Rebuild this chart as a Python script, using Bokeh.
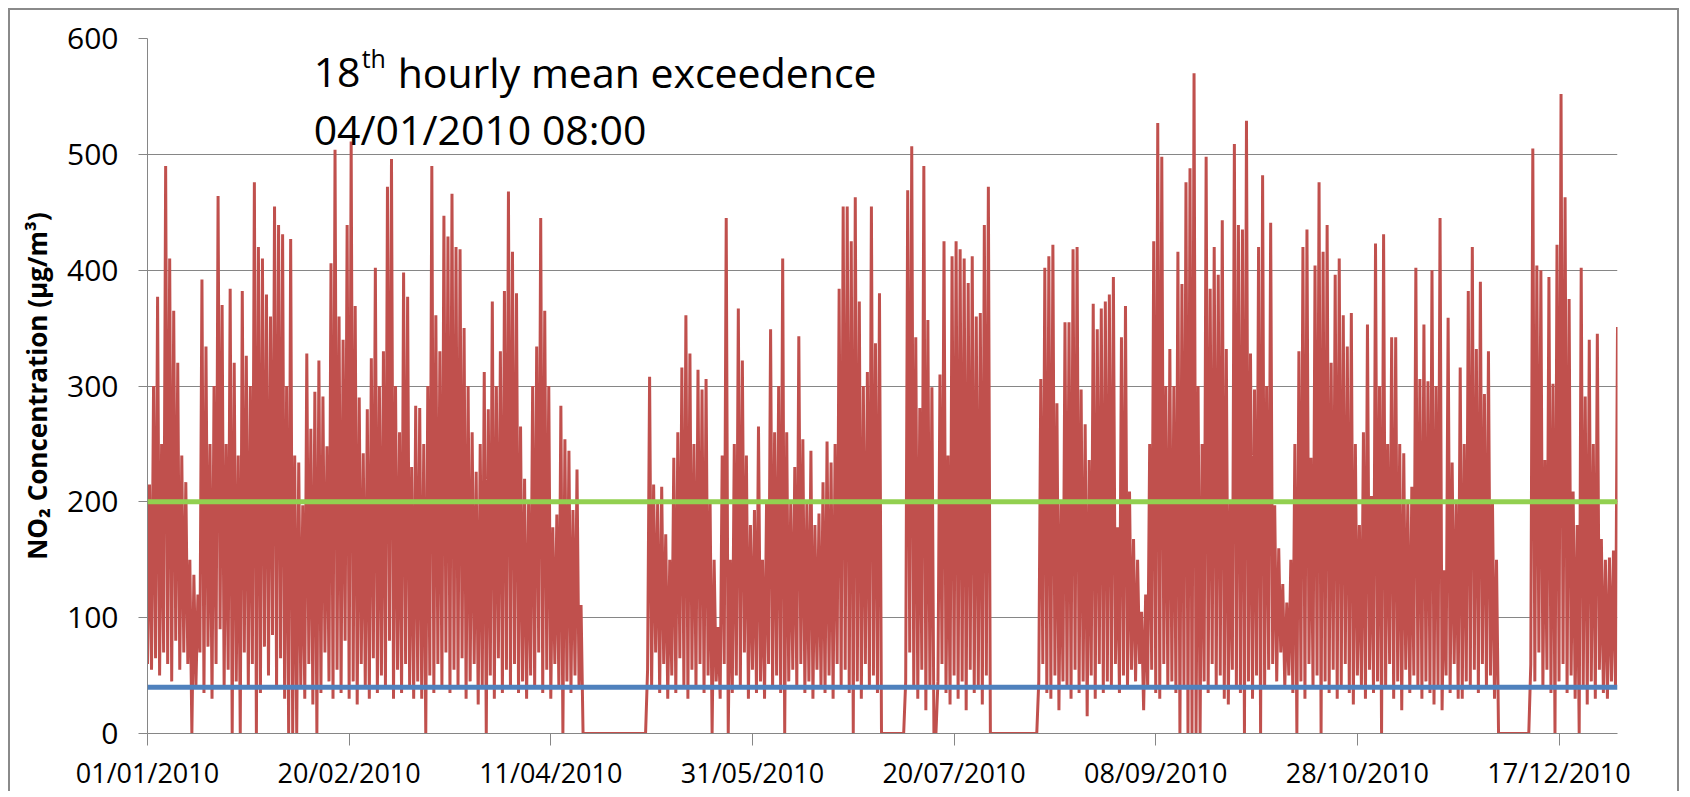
from bokeh.plotting import figure
from bokeh.models import Span, Label, FixedTicker, Range1d
from bokeh.embed import file_html
from bokeh.resources import INLINE

# ---------------- data ----------------
TICK_DAYS = [0, 50, 100, 150, 200, 250, 300, 350]
TICK_LABELS = ["01/01/2010", "20/02/2010", "11/04/2010", "31/05/2010",
               "20/07/2010", "08/09/2010", "28/10/2010", "17/12/2010"]
Y_TICKS = [0, 100, 200, 300, 400, 500, 600]

HOURLY_LIMIT = 200   # hourly mean objective
ANNUAL_LIMIT = 40    # annual mean objective

# daily peak (max) NO2 values, 1 Jan .. 31 Dec 2010
DAILY_MAX = [
    215, 300, 377, 250, 490, 410, 365, 320, 240, 217,
    150, 137, 120, 392, 334, 250, 300, 464, 370, 250,
    384, 320, 240, 382, 326, 300, 476, 420, 410, 379,
    360, 455, 439, 431, 300, 427, 240, 234, 197, 328,
    263, 295, 322, 291, 248, 406, 504, 360, 340, 439,
    511, 369, 290, 242, 280, 324, 402, 300, 330, 472,
    496, 300, 260, 398, 377, 230, 283, 281, 250, 300,
    490, 361, 330, 447, 429, 466, 420, 418, 350, 300,
    260, 226, 250, 312, 280, 373, 300, 330, 382, 468,
    416, 380, 265, 220, 200, 300, 334, 445, 365, 300,
    178, 189, 283, 254, 244, 193, 228, 111, 0, 0,
    0, 0, 0, 0, 0, 0, 0, 0, 0, 0,
    0, 0, 0, 0, 308, 215, 200, 213, 172, 150,
    238, 260, 316, 361, 328, 250, 314, 297, 306, 200,
    150, 92, 240, 445, 150, 250, 367, 322, 240, 180,
    193, 265, 150, 200, 349, 260, 300, 410, 260, 200,
    230, 343, 254, 200, 244, 180, 190, 217, 252, 234,
    250, 384, 455, 455, 425, 463, 373, 300, 312, 455,
    337, 380, 0, 0, 0, 0, 0, 0, 469, 507,
    342, 281, 490, 357, 299, 0, 310, 425, 240, 412,
    425, 418, 410, 389, 412, 360, 363, 439, 472, 0,
    0, 0, 0, 0, 0, 0, 0, 0, 0, 0,
    0, 306, 402, 412, 422, 285, 200, 355, 355, 418,
    420, 297, 267, 236, 371, 349, 367, 373, 379, 394,
    178, 342, 369, 209, 168, 150, 105, 120, 250, 425,
    527, 498, 300, 332, 300, 416, 388, 476, 488, 570,
    300, 250, 498, 384, 420, 396, 443, 332, 200, 509,
    439, 435, 529, 328, 297, 420, 482, 300, 441, 197,
    160, 129, 113, 150, 250, 330, 420, 435, 238, 404,
    476, 416, 439, 320, 396, 410, 361, 334, 363, 250,
    180, 260, 353, 205, 423, 300, 431, 250, 342, 342,
    250, 242, 200, 213, 402, 306, 353, 304, 400, 300,
    445, 141, 359, 234, 200, 316, 250, 382, 420, 332,
    390, 293, 330, 200, 150, 0, 0, 0, 0, 0,
    0, 0, 0, 505, 404, 400, 236, 394, 302, 422,
    552, 463, 375, 209, 180, 402, 291, 340, 250, 345,
    168, 150, 152, 158, 351,
]

# daily trough (min) NO2 values
DAILY_MIN = [
    60, 55, 65, 50, 70, 60, 45, 80, 55, 70,
    60, 0, 40, 70, 35, 75, 30, 60, 90, 40,
    55, 0, 45, 0, 70, 40, 60, 0, 35, 75,
    50, 85, 40, 65, 30, 0, 0, 0, 40, 30,
    60, 25, 0, 35, 70, 45, 30, 55, 35, 80,
    30, 45, 25, 60, 40, 30, 65, 35, 50, 40,
    80, 30, 55, 35, 60, 40, 30, 45, 30, 0,
    50, 35, 60, 40, 70, 35, 55, 40, 65, 30,
    45, 60, 25, 40, 0, 50, 30, 65, 35, 55,
    40, 60, 35, 45, 30, 50, 40, 70, 35, 55,
    30, 60, 40, 0, 45, 35, 50, 40, 0, 0,
    0, 0, 0, 0, 0, 0, 0, 0, 0, 0,
    0, 0, 0, 0, 55, 40, 70, 35, 60, 30,
    50, 35, 65, 40, 30, 55, 40, 60, 35, 50,
    0, 45, 30, 60, 0, 35, 50, 40, 70, 30,
    55, 35, 45, 30, 60, 40, 50, 35, 0, 45,
    55, 40, 60, 35, 45, 30, 55, 40, 35, 50,
    30, 60, 40, 55, 35, 0, 45, 30, 60, 40,
    50, 35, 0, 0, 0, 0, 0, 0, 45, 70,
    40, 30, 55, 20, 40, 0, 45, 60, 35, 25,
    50, 30, 45, 20, 55, 35, 40, 25, 50, 0,
    0, 0, 0, 0, 0, 0, 0, 0, 0, 0,
    0, 45, 60, 35, 30, 50, 20, 45, 40, 30,
    55, 35, 45, 15, 50, 30, 60, 35, 45, 40,
    60, 35, 50, 40, 55, 45, 60, 20, 40, 55,
    35, 30, 60, 40, 45, 35, 0, 40, 0, 0,
    0, 0, 45, 35, 60, 40, 50, 30, 25, 55,
    40, 35, 0, 45, 30, 50, 0, 40, 55, 60,
    45, 70, 40, 50, 35, 0, 45, 30, 60, 40,
    50, 0, 45, 35, 55, 30, 40, 60, 35, 25,
    50, 40, 30, 55, 35, 45, 0, 40, 60, 30,
    45, 20, 55, 35, 50, 40, 30, 45, 35, 25,
    40, 20, 50, 35, 60, 30, 30, 45, 40, 55,
    35, 60, 40, 50, 30, 0, 0, 0, 0, 0,
    0, 0, 0, 60, 45, 70, 40, 55, 35, 0,
    45, 60, 35, 50, 30, 0, 40, 25, 45, 30,
    55, 35, 30, 45, 40,
]

# ---------------- build series ----------------
xs, ys = [], []
for d, (lo, hi) in enumerate(zip(DAILY_MIN, DAILY_MAX)):
    xs += [d, d + 0.5]
    ys += [lo, hi]

p = figure(width=1671, height=783,
           x_range=Range1d(0, len(DAILY_MAX) - 0.5), y_range=Range1d(0, 600),
           output_backend="svg", toolbar_location=None,
           min_border_left=137, min_border_right=64,
           min_border_top=28, min_border_bottom=60)
p.styles = {"margin-left": "8px", "margin-top": "8px",
            "border-left": "2px solid #8a8a8a",
            "border-top": "2px solid #8a8a8a",
            "border-right": "2px solid #8a8a8a"}
p.outline_line_color = None
p.background_fill_color = "white"
p.border_fill_color = "white"

p.line(xs, ys, line_color="#C0504D", line_width=3)

p.add_layout(Span(location=HOURLY_LIMIT, dimension="width",
                  line_color="#92D050", line_width=5))
p.add_layout(Span(location=ANNUAL_LIMIT, dimension="width",
                  line_color="#4F81BD", line_width=5))

# axes
p.xaxis.ticker = FixedTicker(ticks=TICK_DAYS)
p.xaxis.major_label_overrides = {d: l for d, l in zip(TICK_DAYS, TICK_LABELS)}
p.yaxis.ticker = FixedTicker(ticks=Y_TICKS)
for ax in (p.xaxis[0], p.yaxis[0]):
    ax.axis_line_color = "#868686"
    ax.major_tick_line_color = "#868686"
    ax.minor_tick_line_color = None
    ax.major_tick_in = 0
    ax.major_label_text_font = "Open Sans"
    ax.major_label_text_color = "black"
p.xaxis.major_label_text_font_size = "27px"
p.yaxis.major_label_text_font_size = "30px"
p.xaxis.major_tick_out = 12
p.yaxis.major_tick_out = 9
p.xaxis.major_label_standoff = 8
p.yaxis.major_label_standoff = 20

p.yaxis.axis_label = "NO\u2082 Concentration (\u00b5g/m\u00b3)"
p.yaxis.axis_label_text_font = "Open Sans"
p.yaxis.axis_label_text_font_style = "bold"
p.yaxis.axis_label_text_font_size = "26px"
p.yaxis.axis_label_text_color = "black"
p.yaxis.axis_label_standoff = 9

p.xgrid.visible = False
p.ygrid.ticker = FixedTicker(ticks=Y_TICKS)
p.ygrid.grid_line_color = "#868686"
p.ygrid.grid_line_width = 1

# annotation
ann_x = 41.2
p.add_layout(Label(x=ann_x, y=571, text="18", text_font="Open Sans",
                   text_font_size="41px", text_baseline="alphabetic",
                   text_color="black"))
p.add_layout(Label(x=ann_x, y=583, x_offset=48, text="th", text_font="Open Sans",
                   text_font_size="25px", text_baseline="alphabetic",
                   text_color="black"))
p.add_layout(Label(x=ann_x, y=571, x_offset=84, text="hourly mean exceedence",
                   text_font="Open Sans", text_font_size="41px",
                   text_baseline="alphabetic", text_color="black"))
p.add_layout(Label(x=ann_x, y=522, text="04/01/2010 08:00", text_font="Open Sans",
                   text_font_size="41px", text_baseline="alphabetic",
                   text_color="black"))

open("out.html", "w").write(file_html(p, INLINE))
